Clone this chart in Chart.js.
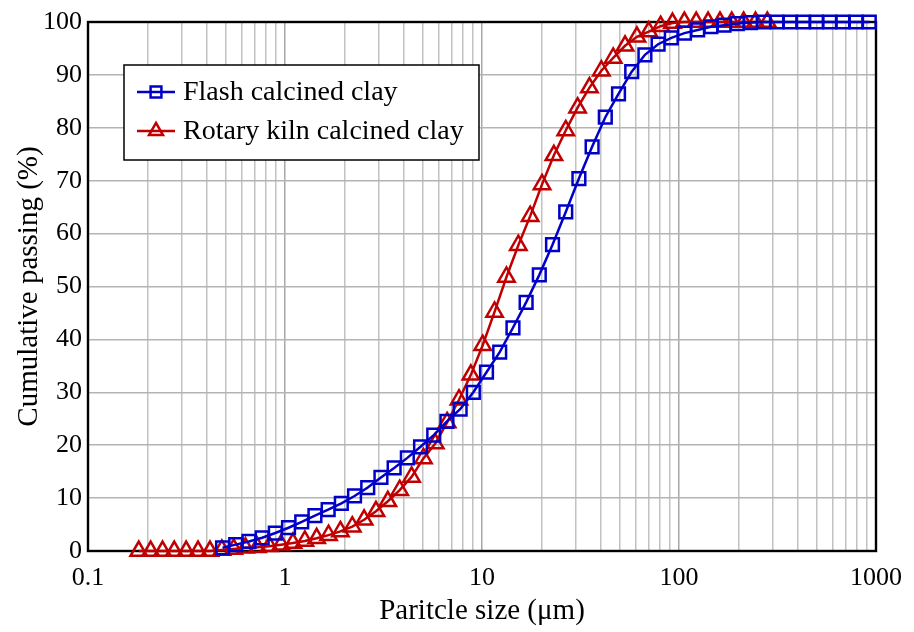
<!DOCTYPE html>
<html>
<head>
<meta charset="utf-8">
<script src="https://cdn.jsdelivr.net/npm/chart.js@4/dist/chart.umd.min.js"></script>
<style>
html,body{margin:0;padding:0;background:#ffffff;}
#wrap{width:914px;height:632px;position:relative;}
</style>
</head>
<body>
<div id="wrap"><canvas id="c" width="914" height="632"></canvas></div>
<script>
// ---- data ----
const seriesNames = ['Flash calcined clay', 'Rotary kiln calcined clay'];

const flashSize = [0.482, 0.562, 0.656, 0.766, 0.893, 1.042, 1.216, 1.419, 1.656, 1.932,
  2.254, 2.630, 3.069, 3.581, 4.179, 4.876, 5.689, 6.638, 7.745, 9.037,
  10.54, 12.30, 14.36, 16.75, 19.54, 22.80, 26.61, 31.04, 36.22, 42.26,
  49.31, 57.54, 67.14, 78.34, 91.40, 106.6, 124.4, 145.2, 169.4, 197.7,
  230.6, 269.1, 314.0, 366.4, 427.5, 498.8, 582.0, 679.1, 792.3, 924.5];
const flashPassing = [0.6, 1.2, 1.8, 2.5, 3.4, 4.4, 5.5, 6.7, 7.8, 9.0,
  10.4, 12.0, 13.9, 15.7, 17.6, 19.7, 21.9, 24.5, 26.8, 30.0,
  33.8, 37.6, 42.2, 47.0, 52.2, 57.9, 64.1, 70.4, 76.4, 82.0,
  86.4, 90.6, 93.8, 95.8, 97.0, 97.9, 98.5, 99.1, 99.4, 99.7,
  99.9, 100, 100, 100, 100, 100, 100, 100, 100, 100];

const rotarySize = [0.181, 0.208, 0.239, 0.274, 0.315, 0.362, 0.416, 0.478, 0.549, 0.630,
  0.724, 0.832, 0.955, 1.097, 1.261, 1.448, 1.663, 1.911, 2.195, 2.521,
  2.896, 3.327, 3.821, 4.390, 5.042, 5.792, 6.653, 7.643, 8.779, 10.08,
  11.58, 13.31, 15.29, 17.56, 20.17, 23.17, 26.61, 30.57, 35.12, 40.34,
  46.34, 53.23, 61.14, 70.23, 80.68, 92.67, 106.5, 122.3, 140.5, 161.4,
  185.3, 212.9, 244.6, 280.9];
const rotaryPassing = [0, 0, 0, 0, 0, 0, 0, 0.2, 0.4, 0.6,
  0.7, 0.9, 1.2, 1.5, 1.9, 2.4, 3.0, 3.7, 4.6, 5.9,
  7.5, 9.4, 11.5, 14.0, 17.5, 20.3, 24.3, 28.6, 33.3, 38.9,
  45.2, 51.8, 57.8, 63.3, 69.3, 74.8, 79.5, 83.8, 87.6, 90.8,
  93.2, 95.5, 97.2, 98.2, 99.2, 99.8, 100, 100, 100, 100,
  100, 100, 100, 100];

const xTickLabels = [0.1, 1, 10, 100, 1000];
const yTickValues = [0, 10, 20, 30, 40, 50, 60, 70, 80, 90, 100];

// grid values for the log axis (1..9 in each decade)
const xGridValues = [];
for (let d = 0; d < xTickLabels.length; d++) {
  const base = xTickLabels[d];
  if (d === xTickLabels.length - 1) { xGridValues.push(base); break; }
  for (let k = 1; k <= 9; k++) xGridValues.push(Number((k * base).toPrecision(6)));
}

const isDecade = v => xTickLabels.some(t => Math.abs(t - v) / t < 1e-6);

const FONT = "'Liberation Serif', 'Times New Roman', serif";
const BLUE = '#0000c8';
const RED = '#c00000';

const toPoints = (xs, ys) => xs.map((x, i) => ({x: x, y: ys[i]}));

const frameBorder = {
  id: 'frameBorder',
  beforeDatasetsDraw(chart) {
    const a = chart.chartArea, ctx = chart.ctx;
    ctx.save();
    ctx.strokeStyle = '#000';
    ctx.lineWidth = 2.4;
    ctx.strokeRect(a.left, a.top, a.right - a.left, a.bottom - a.top);
    ctx.restore();
  }
};

function drawMarker(ctx, style, x, y, r) {
  ctx.beginPath();
  if (style === 'rect') {
    const s = r * Math.SQRT1_2;
    ctx.rect(x - s, y - s, 2 * s, 2 * s);
  } else {
    let rad = 0;
    ctx.moveTo(x + Math.sin(rad) * r, y - Math.cos(rad) * r);
    rad += 2 * Math.PI / 3;
    ctx.lineTo(x + Math.sin(rad) * r, y - Math.cos(rad) * r);
    rad += 2 * Math.PI / 3;
    ctx.lineTo(x + Math.sin(rad) * r, y - Math.cos(rad) * r);
    ctx.closePath();
  }
  ctx.stroke();
}

const boxLegend = {
  id: 'boxLegend',
  afterDatasetsDraw(chart) {
    const ctx = chart.ctx;
    ctx.save();
    const x0 = 124, y0 = 65, w = 355, h = 95;
    ctx.fillStyle = '#fff';
    ctx.fillRect(x0, y0, w, h);
    ctx.strokeStyle = '#000';
    ctx.lineWidth = 1.5;
    ctx.strokeRect(x0, y0, w, h);
    chart.data.datasets.forEach((ds, i) => {
      const cy = 92 + i * 39;
      ctx.strokeStyle = ds.borderColor;
      ctx.lineWidth = 2.5;
      ctx.beginPath();
      ctx.moveTo(137, cy);
      ctx.lineTo(175, cy);
      ctx.stroke();
      ctx.lineWidth = 2.5;
      drawMarker(ctx, ds.pointStyle, 156, cy, ds.pointRadius * 0.85);
      ctx.fillStyle = '#000';
      ctx.font = '28px ' + FONT;
      ctx.textBaseline = 'middle';
      ctx.textAlign = 'left';
      ctx.fillText(ds.label, 183, cy + 1);
    });
    ctx.restore();
  }
};

new Chart(document.getElementById('c'), {
  type: 'line',
  data: {
    datasets: [
      {
        label: seriesNames[0],
        data: toPoints(flashSize, flashPassing),
        borderColor: BLUE, backgroundColor: 'rgba(0,0,0,0)',
        borderWidth: 2.5, pointStyle: 'rect', pointRadius: 9,
        pointBorderWidth: 2.5, pointBackgroundColor: 'rgba(0,0,0,0)',
        pointBorderColor: BLUE, tension: 0, clip: false
      },
      {
        label: seriesNames[1],
        data: toPoints(rotarySize, rotaryPassing),
        borderColor: RED, backgroundColor: 'rgba(0,0,0,0)',
        borderWidth: 2.5, pointStyle: 'triangle', pointRadius: 9.5,
        pointBorderWidth: 2.5, pointBackgroundColor: 'rgba(0,0,0,0)',
        pointBorderColor: RED, tension: 0, clip: false
      }
    ]
  },
  options: {
    responsive: false,
    animation: false,
    devicePixelRatio: 1,
    layout: {padding: {left: 0, right: 35, top: 22, bottom: 0}},
    plugins: {legend: {display: false}, tooltip: {enabled: false}},
    scales: {
      x: {
        type: 'logarithmic',
        min: 0.1, max: 1000,
        afterBuildTicks: s => { s.ticks = xGridValues.map(v => ({value: v})); },
        afterFit: s => { s.height = 81; },
        ticks: {
          autoSkip: false, maxRotation: 0, minRotation: 0, padding: 12,
          color: '#000', font: {family: FONT, size: 26},
          callback: v => isDecade(v) ? String(xTickLabels.find(t => Math.abs(t - v) / t < 1e-6)) : ''
        },
        grid: {
          color: c => (c.tick && isDecade(c.tick.value)) ? '#a8a8a8' : '#c2c2c2',
          lineWidth: 1.5, drawTicks: false
        },
        border: {display: false},
        title: {
          display: true, text: 'Paritcle size (μm)', color: '#000',
          font: {family: FONT, size: 29}, padding: {top: 0, bottom: 3}
        }
      },
      y: {
        min: 0, max: 100,
        afterBuildTicks: s => { s.ticks = yTickValues.map(v => ({value: v})); },
        afterFit: s => { s.width = 88; },
        ticks: {
          stepSize: 10, padding: 6, color: '#000',
          font: {family: FONT, size: 26}
        },
        grid: {color: '#b4b4b4', lineWidth: 1.5, drawTicks: false},
        border: {display: false},
        title: {
          display: true, text: 'Cumulative passing (%)', color: '#000',
          font: {family: FONT, size: 29}, padding: {top: 12, bottom: 0}
        }
      }
    }
  },
  plugins: [frameBorder, boxLegend]
});
</script>
</body>
</html>
